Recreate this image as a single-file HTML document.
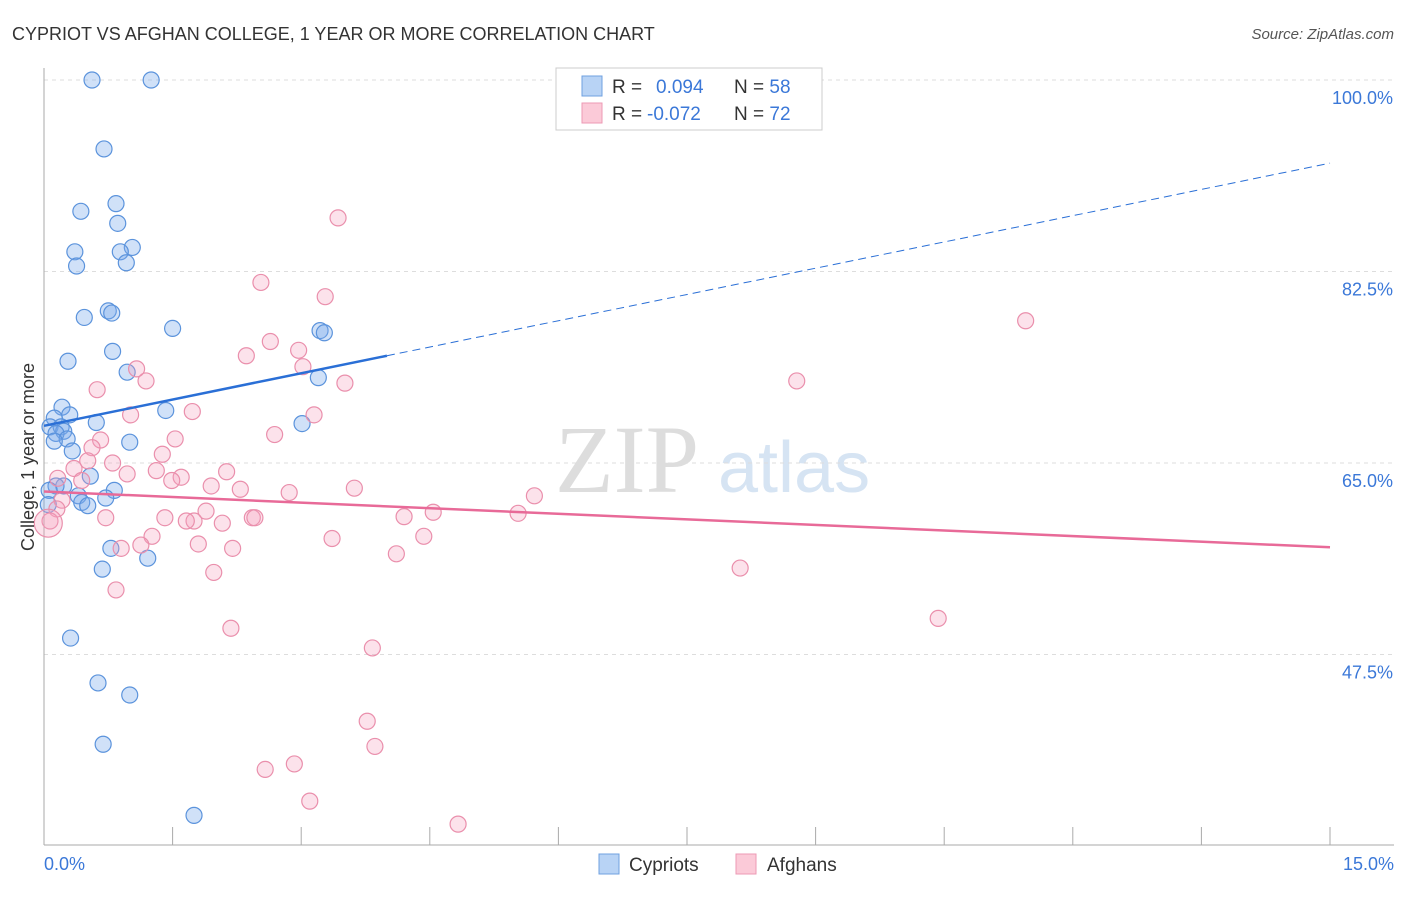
<!DOCTYPE html>
<html><head><meta charset="utf-8"><style>
body{margin:0;background:#fff;font-family:"Liberation Sans",sans-serif}
</style></head><body>
<svg id="c" width="1406" height="892" xmlns="http://www.w3.org/2000/svg" font-family="Liberation Sans, sans-serif">
<text x="12" y="40" font-size="18" fill="#333">CYPRIOT VS AFGHAN COLLEGE, 1 YEAR OR MORE CORRELATION CHART</text>
<text x="1394" y="39" font-size="15" fill="#555" font-style="italic" text-anchor="end">Source: ZipAtlas.com</text>
<text x="555" y="492" font-size="96" fill="#ddd" font-family="Liberation Serif, serif">ZIP</text>
<text x="718" y="492" font-size="72" fill="#d6e4f3">atlas</text>
<g id="grid"></g><g id="axes"></g><g id="pts"></g><g id="lines"></g>
<text transform="translate(34,457) rotate(-90)" font-size="18" fill="#333" text-anchor="middle">College, 1 year or more</text>
<text x="44" y="870" font-size="18" fill="#3b78d8">0.0%</text>
<text x="1394" y="870" font-size="18" fill="#3b78d8" text-anchor="end">15.0%</text>
<g>
<rect x="556" y="68" width="266" height="62" fill="#fff" stroke="#ccc"/>
<rect x="582" y="76" width="20" height="20" fill="#b8d3f5" stroke="#6fa0e0"/>
<rect x="582" y="103" width="20" height="20" fill="#fbcad8" stroke="#ec9ab4"/>
<text x="612" y="93" font-size="19" fill="#333">R = <tspan fill="#3b78d8" x="656">0.094</tspan><tspan x="734">N = </tspan><tspan fill="#3b78d8">58</tspan></text>
<text x="612" y="120" font-size="19" fill="#333">R = <tspan fill="#3b78d8" x="647">-0.072</tspan><tspan x="734">N = </tspan><tspan fill="#3b78d8">72</tspan></text>
</g>
<g>
<rect x="599" y="854" width="20" height="20" fill="#b8d3f5" stroke="#6fa0e0"/>
<text x="629" y="871" font-size="19" fill="#333">Cypriots</text>
<rect x="736" y="854" width="20" height="20" fill="#fbcad8" stroke="#ec9ab4"/>
<text x="767" y="871" font-size="19" fill="#333">Afghans</text>
</g>
</svg>
<script>
const yTicks=[100,82.5,65,47.5];
const yTickLabels=["100.0%","82.5%","65.0%","47.5%"];
const blueX=[0.56,1.25,0.70,0.84,0.43,0.86,0.36,1.03,0.89,0.38,0.96,0.75,0.79,0.47,1.50,3.22,3.27,0.80,0.28,0.97,3.20,0.21,1.42,0.30,0.12,0.61,3.01,0.07,0.20,0.23,0.14,0.27,0.12,1.00,0.33,0.54,0.23,0.14,0.06,0.82,0.40,0.72,0.44,0.51,0.05,0.78,1.21,0.68,0.31,0.63,1.00,0.69,1.75];
const blueY=[100,100,93.7,88.7,88.0,86.9,84.3,84.7,84.3,83.0,83.3,78.9,78.7,78.3,77.3,77.1,76.9,75.2,74.3,73.3,72.8,70.1,69.8,69.4,69.1,68.7,68.6,68.3,68.3,67.9,67.7,67.2,67.0,66.9,66.1,63.8,62.9,62.9,62.5,62.5,62.0,61.8,61.4,61.1,61.2,57.2,56.3,55.3,49.0,44.9,43.8,39.3,32.8];
const pinkX=[3.43,2.53,3.28,11.45,2.64,2.97,2.36,3.02,1.08,1.19,3.51,8.78,0.62,1.73,3.15,1.01,2.69,1.53,0.66,0.56,1.38,0.51,0.80,0.35,2.13,1.31,0.97,1.60,1.49,0.44,0.16,2.29,1.95,3.62,2.86,5.72,0.21,0.15,1.89,4.54,4.20,5.53,0.72,1.41,2.43,2.46,1.75,1.66,2.08,0.07,1.26,4.43,3.36,1.13,1.80,2.20,0.90,4.11,8.12,1.98,0.84,10.43,2.18,3.83,3.77,3.86,2.92,2.58,3.10,4.83,0.05];
const pinkY=[87.4,81.5,80.2,78.0,76.1,75.3,74.8,73.8,73.6,72.5,72.3,72.5,71.7,69.7,69.4,69.4,67.6,67.2,67.1,66.4,65.8,65.2,65.0,64.5,64.2,64.3,64.0,63.7,63.4,63.4,63.6,62.6,62.9,62.7,62.3,62.0,61.6,60.8,60.6,60.5,60.1,60.4,60.0,60.0,60.0,60.0,59.7,59.7,59.5,59.7,58.3,58.3,58.1,57.5,57.6,57.2,57.2,56.7,55.4,55.0,53.4,50.8,49.9,48.1,41.4,39.1,37.5,37.0,34.1,32.0,59.5];
const blueTrend=[68.4,92.4]; const blueSolidEnd=4.0;
const pinkTrend=[62.4,57.3];
const X=v=>44+v/15*1286, Y=v=>80+(100-v)*191.5/17.5;
const NS="http://www.w3.org/2000/svg";
function mk(p,t,a){const e=document.createElementNS(NS,t);for(const k in a)e.setAttribute(k,a[k]);document.getElementById(p).appendChild(e);return e;}
yTicks.forEach((v,i)=>{
 const g=mk('grid','line',{x1:44,x2:1394,y1:Y(v),y2:Y(v),stroke:'#ddd','stroke-dasharray':'4,4'});
 
 
 const t=mk('grid','text',{x:1393,y:Y(v)+24,'font-size':18,fill:'#3b78d8','text-anchor':'end'});
 t.textContent=yTickLabels[i];
 
 
});
const ax=mk('axes','line',{x1:44,x2:44,y1:68,y2:845,stroke:'#aaa'});


const bx=mk('axes','line',{x1:44,x2:1394,y1:845,y2:845,stroke:'#aaa'});


for(let i=0;i<=10;i++){const t=mk('axes','line',{x1:X(i*1.5),x2:X(i*1.5),y1:827,y2:845,stroke:'#aaa'});
 
 }
blueX.forEach((x,i)=>{const c=mk('pts','circle',{cx:X(x),cy:Y(blueY[i]),r:8,fill:'rgba(120,170,235,0.35)',stroke:'#5b93dc','stroke-width':1.2});
 
 });
pinkX.forEach((x,i)=>{const c=mk('pts','circle',{cx:X(x),cy:Y(pinkY[i]),r:i==pinkX.length-1?14:8,fill:'rgba(245,160,190,0.3)',stroke:'#ea8fac','stroke-width':1.2});
 
 });
const bv=x=>blueTrend[0]+(blueTrend[1]-blueTrend[0])*x/15;
const l1=mk('lines','line',{x1:X(0),y1:Y(bv(0)),x2:X(blueSolidEnd),y2:Y(bv(blueSolidEnd)),stroke:'#2a6fd6','stroke-width':2.5});


const l2=mk('lines','line',{x1:X(blueSolidEnd),y1:Y(bv(blueSolidEnd)),x2:X(15),y2:Y(bv(15)),stroke:'#2a6fd6','stroke-width':1,'stroke-dasharray':'8,5'});


const l3=mk('lines','line',{x1:X(0),y1:Y(pinkTrend[0]),x2:X(15),y2:Y(pinkTrend[1]),stroke:'#e86a98','stroke-width':2.5});


</script>
</body></html>
